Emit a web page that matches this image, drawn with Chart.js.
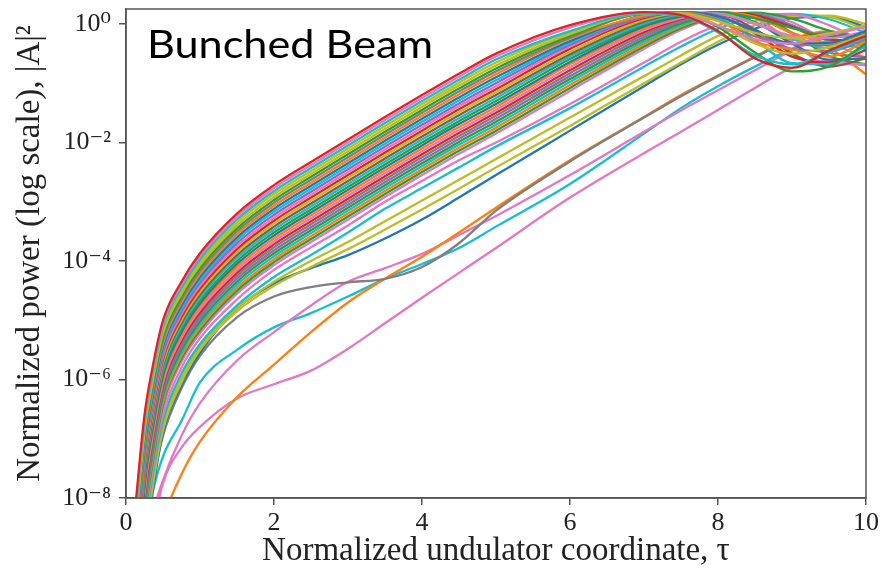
<!DOCTYPE html>
<html lang="en">
<head>
<meta charset="UTF-8" />
<title>Bunched Beam</title>
<script src="https://cdn.jsdelivr.net/npm/chart.js@4.4.1/dist/chart.umd.min.js"></script>
<style>
  html, body { margin: 0; padding: 0; background: #fff; }
  canvas { display: block; }
</style>
</head>
<body>
<canvas id="chart" width="882" height="576"></canvas>
<script>
const tau = [0.1, 0.25, 0.35, 0.5, 0.75, 1, 1.5, 2, 2.5, 3, 3.5, 4, 4.5, 5, 6, 7, 7.5, 8, 8.5, 9, 9.5, 10];

// all curves are stored as log10 |A|^2 (easier to read off a log axis)
// main bundle, top curve first
const bundle = [
  [-8.5,-6.6,-5.85,-5.0,-4.35,-3.87,-3.2,-2.72,-2.33,-1.95,-1.57,-1.2,-0.84,-0.5,-0.02,0.2,0.15,-0.12,-0.58,-0.74,-0.45,-0.2],
  [-8.61,-6.67,-5.91,-5.06,-4.4,-3.92,-3.25,-2.77,-2.38,-2.0,-1.62,-1.25,-0.89,-0.55,-0.06,0.19,0.16,-0.03,-0.26,-0.33,-0.19,-0.05],
  [-8.72,-6.74,-5.98,-5.11,-4.45,-3.97,-3.3,-2.82,-2.43,-2.05,-1.67,-1.3,-0.94,-0.6,-0.12,0.18,0.14,-0.14,-0.53,-0.68,-0.48,-0.23],
  [-8.83,-6.81,-6.04,-5.17,-4.5,-4.02,-3.35,-2.87,-2.48,-2.1,-1.72,-1.35,-0.99,-0.65,-0.14,0.18,0.18,0.05,-0.15,-0.24,-0.16,-0.02],
  [-8.94,-6.88,-6.1,-5.22,-4.55,-4.07,-3.4,-2.92,-2.53,-2.15,-1.77,-1.4,-1.04,-0.7,-0.17,0.18,0.18,-0.02,-0.33,-0.5,-0.39,-0.18],
  [-9.05,-6.95,-6.16,-5.28,-4.6,-4.12,-3.45,-2.97,-2.58,-2.2,-1.82,-1.45,-1.09,-0.75,-0.2,0.17,0.17,-0.05,-0.48,-0.8,-0.72,-0.33],
  [-9.16,-7.02,-6.23,-5.33,-4.65,-4.17,-3.5,-3.02,-2.63,-2.25,-1.87,-1.5,-1.14,-0.8,-0.23,0.17,0.18,0.07,-0.21,-0.34,-0.36,-0.16],
  [-9.27,-7.09,-6.29,-5.39,-4.7,-4.22,-3.55,-3.07,-2.68,-2.3,-1.92,-1.55,-1.19,-0.85,-0.25,0.14,0.19,0.07,-0.3,-0.43,-0.55,-0.29],
  [-9.38,-7.16,-6.35,-5.44,-4.75,-4.27,-3.6,-3.12,-2.73,-2.35,-1.97,-1.6,-1.24,-0.9,-0.29,0.15,0.2,0.13,-0.11,-0.33,-0.32,-0.12],
  [-9.49,-7.23,-6.41,-5.5,-4.8,-4.32,-3.65,-3.17,-2.78,-2.4,-2.02,-1.65,-1.29,-0.95,-0.32,0.15,0.2,0.11,-0.27,-0.66,-0.68,-0.37],
  [-9.6,-7.3,-6.48,-5.55,-4.85,-4.37,-3.7,-3.22,-2.83,-2.45,-2.07,-1.7,-1.34,-1.0,-0.35,0.12,0.2,0.14,-0.13,-0.42,-0.46,-0.25],
  [-9.71,-7.37,-6.54,-5.61,-4.9,-4.42,-3.75,-3.27,-2.88,-2.5,-2.12,-1.75,-1.39,-1.05,-0.38,0.12,0.19,0.17,0.0,-0.2,-0.24,-0.12],
  [-9.82,-7.44,-6.6,-5.66,-4.95,-4.47,-3.8,-3.32,-2.93,-2.55,-2.17,-1.8,-1.44,-1.1,-0.42,0.1,0.19,0.14,-0.16,-0.55,-0.65,-0.44],
  [-9.93,-7.51,-6.66,-5.72,-5.0,-4.52,-3.85,-3.37,-2.98,-2.6,-2.22,-1.85,-1.49,-1.15,-0.47,0.07,0.18,0.17,0.01,-0.23,-0.33,-0.22],
  [-10.04,-7.58,-6.73,-5.77,-5.05,-4.57,-3.9,-3.42,-3.03,-2.65,-2.27,-1.9,-1.54,-1.2,-0.51,0.04,0.17,0.16,-0.09,-0.5,-0.72,-0.58],
  [-10.15,-7.65,-6.79,-5.83,-5.1,-4.62,-3.95,-3.47,-3.08,-2.7,-2.32,-1.95,-1.59,-1.25,-0.55,0.01,0.16,0.18,0.02,-0.25,-0.41,-0.34],
  [-10.26,-7.72,-6.85,-5.88,-5.15,-4.67,-4.0,-3.52,-3.13,-2.75,-2.37,-2.0,-1.64,-1.3,-0.59,-0.01,0.15,0.2,0.1,-0.07,-0.2,-0.18],
  [-10.37,-7.79,-6.91,-5.94,-5.2,-4.72,-4.05,-3.57,-3.18,-2.8,-2.42,-2.05,-1.69,-1.35,-0.64,-0.04,0.13,0.19,0.03,-0.33,-0.6,-0.58],
  [-10.48,-7.86,-6.98,-5.99,-5.25,-4.77,-4.1,-3.62,-3.23,-2.85,-2.47,-2.1,-1.74,-1.4,-0.68,-0.07,0.12,0.2,0.12,-0.15,-0.31,-0.29],
  [-10.59,-7.93,-7.04,-6.05,-5.3,-4.82,-4.15,-3.67,-3.28,-2.9,-2.52,-2.15,-1.79,-1.45,-0.73,-0.1,0.1,0.19,0.1,-0.3,-0.68,-0.68],
  [-10.7,-8.0,-7.1,-6.1,-5.35,-4.87,-4.2,-3.72,-3.33,-2.95,-2.57,-2.2,-1.84,-1.5,-0.78,-0.14,0.08,0.19,0.15,-0.05,-0.26,-0.28],
  [-10.81,-8.07,-7.16,-6.16,-5.4,-4.92,-4.25,-3.77,-3.38,-3.0,-2.62,-2.25,-1.89,-1.55,-0.83,-0.18,0.06,0.18,0.13,-0.16,-0.48,-0.56],
  [-10.92,-8.14,-7.23,-6.21,-5.45,-4.97,-4.3,-3.82,-3.43,-3.05,-2.67,-2.3,-1.94,-1.6,-0.88,-0.22,0.04,0.17,0.16,-0.03,-0.26,-0.33],
  [-11.03,-8.21,-7.29,-6.27,-5.5,-5.02,-4.35,-3.87,-3.48,-3.1,-2.72,-2.35,-1.99,-1.65,-0.93,-0.26,0.01,0.15,0.14,-0.15,-0.54,-0.68],
  [-11.14,-8.28,-7.35,-6.32,-5.55,-5.07,-4.4,-3.92,-3.53,-3.15,-2.77,-2.4,-2.04,-1.7,-0.98,-0.3,-0.02,0.15,0.17,-0.02,-0.29,-0.42],
  [-11.25,-8.35,-7.41,-6.38,-5.6,-5.12,-4.45,-3.97,-3.58,-3.2,-2.82,-2.45,-2.09,-1.75,-1.03,-0.34,-0.04,0.14,0.16,-0.04,-0.39,-0.85],
  [-11.36,-8.42,-7.48,-6.43,-5.65,-5.17,-4.5,-4.02,-3.63,-3.25,-2.87,-2.5,-2.14,-1.8,-1.08,-0.38,-0.07,0.13,0.19,0.09,-0.11,-0.24],
  [-11.47,-8.49,-7.54,-6.49,-5.7,-5.22,-4.55,-4.07,-3.68,-3.3,-2.92,-2.55,-2.19,-1.85,-1.13,-0.42,-0.1,0.12,0.18,0.03,-0.3,-0.58]
];
const bundleColors = ['red','pink','cyan','olive','olive','green','gray','orange','blue','cyan',
  'purple','pink','red','olive','brown','cyan','green','blue','orange','pink',
  'red','gray','purple','green','cyan','orange','green','pink'];

// curves that peel off just under the bundle
const sPink   = [-11.6,-8.6,-7.6,-6.6,-5.8,-5.3,-4.65,-4.15,-3.77,-3.4,-3.0,-2.65,-2.3,-2.0,-1.35,-0.65,-0.3,-0.02,0.15,0.16,-0.02,-0.32];
const sCyan   = [-11.7,-8.7,-7.7,-6.7,-5.9,-5.4,-4.75,-4.27,-3.9,-3.52,-3.12,-2.77,-2.42,-2.07,-1.42,-0.72,-0.38,-0.08,0.12,0.17,0.08,-0.15];
const sOlive1 = [-11.8,-8.8,-7.8,-6.78,-5.98,-5.45,-4.8,-4.35,-4.0,-3.68,-3.33,-2.98,-2.63,-2.28,-1.58,-0.88,-0.53,-0.2,0.05,0.15,0.12,-0.1];
const sOlive2 = [-11.9,-8.9,-7.9,-6.85,-6.05,-5.5,-4.85,-4.42,-4.1,-3.8,-3.47,-3.13,-2.78,-2.42,-1.72,-1.0,-0.65,-0.3,-0.02,0.13,0.14,0.0];
const sBlue   = [-12,-9.0,-8.0,-6.9,-6.1,-5.55,-4.8,-4.38,-4.12,-3.9,-3.62,-3.3,-2.93,-2.55,-1.8,-1.05,-0.68,-0.35,-0.08,0.1,0.12,-0.05];

// the slow curves at the bottom
const lowGray   = [-10,-8.6,-7.8,-6.95,-6.15,-5.6,-4.95,-4.6,-4.44,-4.36,-4.3,-4.1,-3.7,-3.15,-2.32,-1.58,-1.22,-0.88,-0.56,-0.27,-0.14,-0.32];
const lowOrange = [-11,-9.6,-9.0,-8.35,-7.6,-7.05,-6.3,-5.75,-5.2,-4.7,-4.3,-3.93,-3.52,-3.1,-2.3,-1.57,-1.2,-0.87,-0.55,-0.25,-0.12,-0.3];
const lowPinkB  = [-10.5,-8.9,-8.3,-7.7,-6.95,-6.4,-5.68,-5.2,-4.75,-4.35,-4.12,-3.88,-3.56,-3.24,-2.55,-1.82,-1.46,-1.12,-0.78,-0.45,-0.22,-0.2];
const lowCyan   = [-10.5,-8.6,-7.95,-7.3,-6.7,-6.05,-5.5,-5.12,-4.88,-4.6,-4.3,-4.05,-3.78,-3.42,-2.7,-1.85,-1.42,-1.05,-0.72,-0.42,-0.2,-0.25];
const lowPinkD  = [-11,-9.2,-8.6,-7.75,-7.15,-6.8,-6.32,-6.08,-5.85,-5.48,-5.05,-4.62,-4.2,-3.78,-2.93,-2.18,-1.82,-1.45,-1.08,-0.74,-0.62,-0.7];

const yTicks = [1e-8, 1e-6, 1e-4, 1e-2, 1];
const yTickLabels = ['10\u207B\u2078', '10\u207B\u2076', '10\u207B\u2074', '10\u207B\u00B2', '10\u2070'];
const xTitle = 'Normalized undulator coordinate, \u03C4';
const yTitle = 'Normalized power (log scale), |A|\u00B2';
const plotLabel = 'Bunched Beam';

const tab10 = {
  blue: '#1f77b4', orange: '#ff7f0e', green: '#2ca02c', red: '#d62728', purple: '#9467bd',
  brown: '#8c564b', pink: '#e377c2', gray: '#7f7f7f', olive: '#bcbd22', cyan: '#17becf'
};

function curve(logs, color) {
  return {
    data: tau.map((t, i) => ({ x: t, y: Math.pow(10, logs[i]) })),
    borderColor: tab10[color],
    borderWidth: 2.3,
    pointRadius: 0,
    fill: false,
    cubicInterpolationMode: 'monotone',
    clip: 0
  };
}

// first dataset ends up drawn on top
const datasets = bundle.map((row, i) => curve(row, bundleColors[i]));
datasets.push(curve(sPink, 'pink'), curve(sCyan, 'cyan'), curve(sOlive1, 'olive'),
  curve(sOlive2, 'olive'), curve(sBlue, 'blue'));
datasets.push(curve(lowGray, 'gray'), curve(lowOrange, 'orange'), curve(lowPinkB, 'pink'),
  curve(lowCyan, 'cyan'), curve(lowPinkD, 'pink'));

const serif = "'Liberation Serif', 'DejaVu Serif', serif";

const frame = {
  id: 'frame',
  afterDatasetsDraw(chart) {
    const { ctx, chartArea: a } = chart;
    ctx.save();
    ctx.strokeStyle = '#555';
    ctx.lineWidth = 1.5;
    ctx.strokeRect(a.left, a.top, a.right - a.left, a.bottom - a.top);
    // label inside the plot, stretched a little to the width it has in the figure
    ctx.fillStyle = '#000';
    ctx.font = "38px Lato, 'Open Sans', sans-serif";
    ctx.textBaseline = 'alphabetic';
    const sx = 286 / ctx.measureText(plotLabel).width;
    ctx.translate(a.left + 21, a.top + 49);
    ctx.scale(sx, 1);
    ctx.fillText(plotLabel, 0, 0);
    ctx.restore();
  }
};

new Chart(document.getElementById('chart'), {
  type: 'line',
  data: { datasets },
  plugins: [frame],
  options: {
    responsive: false,
    animation: false,
    layout: { padding: { left: 0, right: 16, top: 9, bottom: 0 } },
    plugins: { legend: { display: false }, tooltip: { enabled: false } },
    scales: {
      x: {
        type: 'linear', min: 0, max: 10,
        ticks: { stepSize: 2, color: '#222', font: { family: serif, size: 26 }, padding: 3, maxRotation: 0 },
        grid: { drawOnChartArea: false, drawTicks: true, tickLength: 7, color: '#555', lineWidth: 1.5 },
        border: { display: true, color: '#555', width: 1.5 },
        title: { display: true, text: xTitle, color: '#222', font: { family: serif, size: 33 }, padding: { top: 0, bottom: 5 } },
        afterFit(s) { s.height = 78; s.paddingLeft = 0; s.paddingRight = 0; }
      },
      y: {
        type: 'logarithmic', min: 1e-8, max: 1.79,
        afterBuildTicks(s) { s.ticks = yTicks.map(v => ({ value: v })); },
        ticks: { callback: (v, i) => yTickLabels[i], color: '#222', font: { family: serif, size: 26 }, padding: 8 },
        grid: { drawOnChartArea: false, drawTicks: true, tickLength: 7, color: '#555', lineWidth: 1.5 },
        border: { display: true, color: '#555', width: 1.5 },
        title: { display: true, text: yTitle, color: '#222', font: { family: serif, size: 33 }, padding: { top: 11 } },
        afterFit(s) { s.width = 126; s.paddingTop = 0; s.paddingBottom = 0; }
      }
    }
  }
});
</script>
</body>
</html>
